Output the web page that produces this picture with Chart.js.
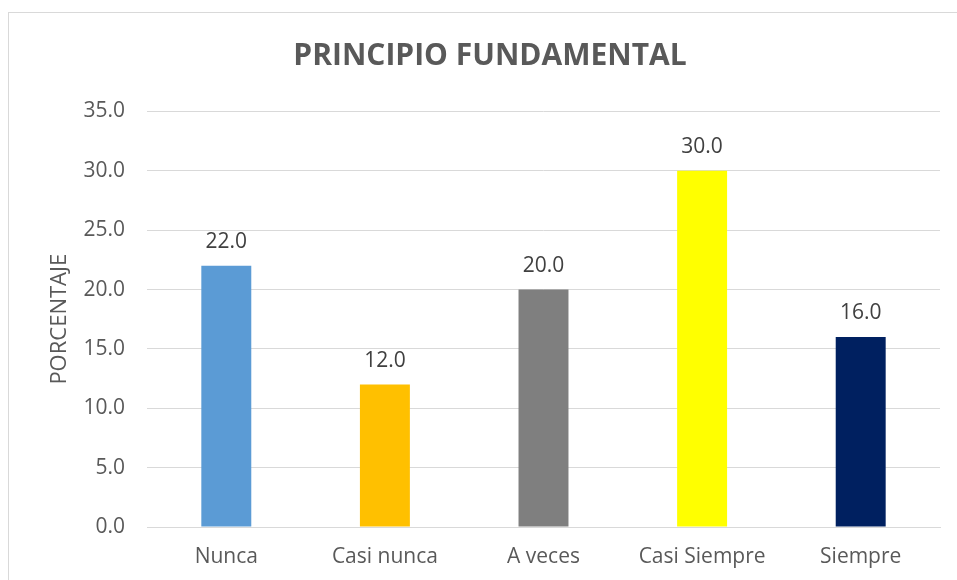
<!DOCTYPE html>
<html>
<head>
<meta charset="utf-8">
<script src="https://cdn.jsdelivr.net/npm/chart.js@4/dist/chart.umd.min.js"></script>
<style>
  html, body { margin: 0; padding: 0; background: #fff; overflow: hidden; }
  #marco { position: absolute; left: 8px; top: 12px; width: 1000px; height: 700px;
           border-left: 1px solid #D9D9D9; border-top: 1px solid #D9D9D9; }
  #canvasbar { position: absolute; left: 0; top: 0; }
</style>
</head>
<body>
<div id="marco"></div>
<canvas id="canvasbar" width="957" height="580"></canvas>
<script>
var categorias = ["Nunca", "Casi nunca", "A veces", "Casi Siempre", "Siempre"];
var porcentajes = [22.0, 12.0, 20.0, 30.0, 16.0];
var colores = ["#5B9BD5", "#FFC000", "#7F7F7F", "#FFFF00", "#002060"];
var titulo = "PRINCIPIO FUNDAMENTAL";
var tituloEje = "PORCENTAJE";

var fuente = "'Open Sans', 'DejaVu Sans', sans-serif";

// etiquetas de valor encima de cada barra
var etiquetasValor = {
  id: 'etiquetasValor',
  afterDatasetsDraw: function(chart) {
    var ctx = chart.ctx;
    var meta = chart.getDatasetMeta(0);
    ctx.save();
    ctx.font = "21px " + fuente;
    ctx.fillStyle = "#404040";
    ctx.textAlign = "center";
    ctx.textBaseline = "middle";
    meta.data.forEach(function(bar, i) {
      ctx.fillText(porcentajes[i].toFixed(1), bar.x, bar.y - 24);
    });
    ctx.restore();
  }
};

var ctx = document.getElementById("canvasbar").getContext("2d");

var myBarChart = new Chart(ctx, {
  type: 'bar',
  data: {
    labels: categorias,
    datasets: [{
      data: porcentajes,
      backgroundColor: colores,
      borderWidth: 0,
      barPercentage: 0.315,
      categoryPercentage: 1
    }]
  },
  options: {
    responsive: false,
    animation: false,
    devicePixelRatio: 1,
    layout: { padding: { left: 40, right: 17, top: 38, bottom: 0 } },
    plugins: {
      legend: { display: false },
      tooltip: { enabled: false },
      title: {
        display: true,
        text: titulo,
        color: "#595959",
        font: { family: fuente, size: 30, weight: 'bold' },
        padding: { top: 0, bottom: 37.5 }
      }
    },
    scales: {
      x: {
        grid: { display: false, drawTicks: false },
        border: { display: true, color: "#D9D9D9" },
        ticks: {
          color: "#595959",
          font: { family: fuente, size: 21 },
          padding: 17,
          maxRotation: 0
        },
        afterFit: function(scale) { scale.height = 53; }
      },
      y: {
        min: 0,
        max: 35,
        grid: { color: "#D9D9D9", lineWidth: 1, drawTicks: false },
        border: { display: false },
        ticks: {
          stepSize: 5,
          color: "#595959",
          font: { family: fuente, size: 21 },
          padding: 22,
          callback: function(v) { return v.toFixed(1); }
        },
        title: {
          display: true,
          text: tituloEje,
          color: "#595959",
          font: { family: fuente, size: 22 },
          padding: { top: 7, bottom: 0 }
        },
        afterFit: function(scale) { scale.width = 107; }
      }
    }
  },
  plugins: [etiquetasValor]
});
</script>
</body>
</html>
